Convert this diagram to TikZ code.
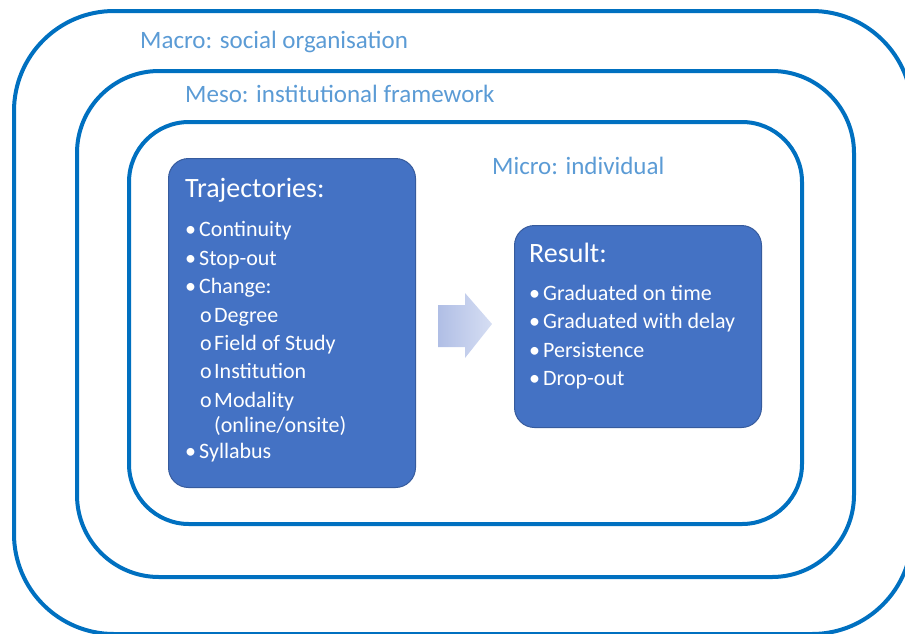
\documentclass[tikz,border=0pt]{standalone}
\usepackage{fontspec}
\setmainfont{Carlito}

\definecolor{ringblue}{RGB}{0,112,192}
\definecolor{labelblue}{RGB}{91,155,213}
\definecolor{boxblue}{RGB}{68,114,196}
\definecolor{arrowdark}{RGB}{176,190,229}
\definecolor{arrowlight}{RGB}{214,222,243}

\tikzset{
  ring/.style={draw=ringblue, line width=4pt},
  levellabel/.style={anchor=base west, inner sep=0pt, text=labelblue, font=\fontsize{25}{30}\selectfont},
  bluebox/.style={draw=boxblue!80!black, fill=boxblue, rounded corners=20pt, line width=1pt, anchor=north west},
  boxtitle/.style={anchor=base west, inner sep=0pt, text=white, font=\fontsize{28}{34}\selectfont},
  listitem/.style={anchor=base west, inner sep=0pt, text=white, font=\fontsize{22}{26}\selectfont},
  blockarrow/.style={left color=arrowdark, right color=arrowlight},
}
\newcommand{\bul}{\makebox[14pt][l]{•}}
\newcommand{\sub}{\makebox[14pt][l]{o}}

\begin{document}
\begin{tikzpicture}[x=1pt,y=-1pt]
    \useasboundingbox (0,0) rectangle (905,633);
    \clip (0,0) rectangle (905,633);

    % nested levels
    \draw[ring, rounded corners=100pt] (14,11) rectangle (912,634);
    \draw[ring, rounded corners=82pt] (77,71) rectangle (854,577);
    \draw[ring, rounded corners=60pt] (129,122) rectangle (802,524);

    \node[levellabel] (macro) at (140,48) {Macro: social organisation};
    \node[levellabel] (meso) at (185,102) {Meso: institutional framework};
    \node[levellabel] (micro) at (492,174) {Micro: individual};

    % trajectories
    \node[bluebox, minimum width=247pt, minimum height=329pt] (trajbox) at (168,158) {};
    \node[boxtitle] (trajtitle) at (185,197) {Trajectories:};
    \node[listitem] (t1) at (185,236) {\bul Continuity};
    \node[listitem] (t2) at (185,265) {\bul Stop-out};
    \node[listitem] (t3) at (185,293) {\bul Change:};
    \node[listitem] (t4) at (200,322) {\sub Degree};
    \node[listitem] (t5) at (200,350) {\sub Field of Study};
    \node[listitem] (t6) at (200,378) {\sub Institution};
    \node[listitem] (t7) at (200,407) {\sub Modality};
    \node[listitem] (t8) at (214,432) {(online/onsite)};
    \node[listitem] (t9) at (185,458) {\bul Syllabus};

    % result
    \node[bluebox, minimum width=247pt, minimum height=202pt] (resbox) at (514,225) {};
    \node[boxtitle] (restitle) at (529,262) {Result:};
    \node[listitem] (r1) at (529,300) {\bul Graduated on time};
    \node[listitem] (r2) at (529,328) {\bul Graduated with delay};
    \node[listitem] (r3) at (529,357) {\bul Persistence};
    \node[listitem] (r4) at (529,385) {\bul Drop-out};

    % block arrow between the boxes
    \shade[blockarrow] (438,305) -- (465,305) -- (465,293) -- (492,324) -- (465,358)
        -- (465,347) -- (438,347) -- cycle;

\end{tikzpicture}
\end{document}
